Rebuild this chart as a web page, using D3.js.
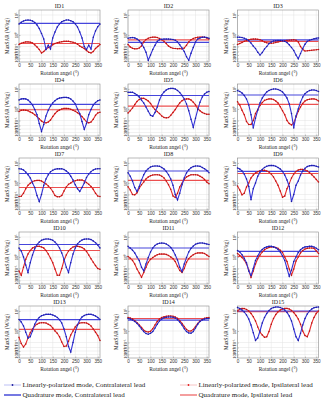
<!DOCTYPE html>
<html lang="en">
<head>
<meta charset="UTF-8">
<title>MaxSAR vs rotation angle</title>
<script src="https://cdn.jsdelivr.net/npm/d3@7"></script>
<style>
  html, body { margin: 0; padding: 0; background: #fff; }
  svg { display: block; font-family: 'Liberation Serif', 'DejaVu Serif', serif; }
</style>
</head>
<body>
<svg id="chart" width="326" height="400"></svg>
<script>
// rotation angles (deg) where the linearly-polarized mode was evaluated
const angles = [0,10,20,30,40,50,60,70,80,90,100,110,120,130,140,150,160,170,180,190,200,210,220,230,240,250,260,270,280,290,300,310,320,330,340,350,360];
const panelIds = ['ID1','ID2','ID3','ID4','ID5','ID6','ID7','ID8','ID9','ID10','ID11','ID12','ID13','ID14','ID15'];
const xTicks = [0,50,100,150,200,250,300,350];
const yTickExp = [1,0,-1,-2,-3,-4];

// MaxSAR (W/kg), linearly-polarized mode, contralateral lead
const linContra = [
  [3.5,4.4,5.0,5.5,5.6,5.5,5.0,4.2,3.2,2.1,1.2,0.45,0.025,0.13,0.032,0.56,1.4,2.5,3.6,4.6,5.2,5.6,5.6,5.2,4.6,3.6,2.5,1.4,0.56,0.1,0.025,0.13,0.032,0.63,1.6,2.6,3.5],
  [0.53,0.58,0.6,0.56,0.45,0.32,0.18,0.063,0.0063,0.00003,0.001,0.025,0.13,0.28,0.38,0.43,0.44,0.44,0.44,0.43,0.4,0.35,0.25,0.14,0.05,0.01,0.0003,0.00003,0.0032,0.063,0.25,0.45,0.56,0.63,0.65,0.6,0.53],
  [0.65,0.63,0.6,0.52,0.42,0.32,0.2,0.11,0.04,0.0063,0.001,0.005,0.032,0.1,0.18,0.25,0.3,0.32,0.33,0.33,0.32,0.28,0.22,0.14,0.063,0.016,0.001,0.00008,0.0025,0.04,0.16,0.28,0.35,0.4,0.47,0.52,0.56],
  [2.8,3.2,3.3,3.2,2.8,2.2,1.6,0.89,0.32,0.025,0.0002,0.016,0.25,0.79,1.4,2.0,2.6,3.2,3.5,3.7,3.8,3.8,3.6,3.2,2.5,1.8,1.0,0.4,0.063,0.0008,0.025,0.32,0.89,1.6,2.1,2.6,2.8],
  [6.8,6.9,6.8,6.0,5.0,4.0,2.8,2.0,1.26,0.63,0.28,0.23,0.5,1.26,2.8,5.0,7.1,8.9,10.2,10.7,10.7,10,8.5,6.6,4.8,3.2,1.8,0.71,0.13,0.0032,0.16,0.89,2.2,4.0,5.6,6.9,7.6],
  [8.3,7.6,6.3,4.8,3.2,1.6,0.32,0.002,0.16,0.79,2.0,3.5,5.2,7.1,8.5,9.5,10,10,9.5,8.5,7.1,5.2,3.5,1.8,0.4,0.002,0.25,1.0,2.2,4.0,5.8,7.2,8.3,8.9,8.9,8.5,7.6],
  [5.2,5.0,4.5,3.5,2.6,1.8,1.0,0.4,0.063,0.0025,0.1,0.63,1.6,2.6,3.6,4.4,4.9,5.1,5.2,5.1,4.7,4.0,3.2,2.2,1.4,0.71,0.32,0.18,0.4,1.0,1.9,2.8,3.7,4.5,5.0,5.2,5.2],
  [3.3,2.2,1.26,0.4,0.18,0.5,1.4,2.6,4.0,5.2,6.3,6.9,7.1,7.1,6.8,6.0,5.0,3.8,2.6,1.6,0.63,0.1,0.008,0.13,0.71,1.8,3.2,4.6,5.8,6.6,7.1,7.1,6.8,6.0,5.2,4.2,3.3],
  [5.6,5.0,4.0,2.8,1.6,0.5,0.008,0.32,1.0,2.2,3.5,4.8,6.0,6.9,7.4,7.6,7.4,6.9,6.0,5.0,3.8,2.5,1.4,0.5,0.0025,0.1,0.63,1.26,2.5,4.0,5.4,6.6,7.2,7.6,7.4,6.9,6.3],
  [2.8,2.0,1.0,0.2,0.016,0.32,1.26,2.6,4.2,5.6,6.8,7.6,7.9,7.9,7.6,6.8,5.6,4.2,2.8,1.6,0.63,0.13,0.016,0.32,1.4,2.8,4.5,5.9,7.1,7.8,7.9,7.9,7.4,6.3,5.2,4.0,2.8],
  [3.4,2.8,2.2,1.6,1.0,0.5,0.13,0.034,0.25,0.89,1.8,2.8,3.8,4.5,4.9,5.0,4.9,4.5,3.8,3.0,2.1,1.26,0.56,0.13,0.025,0.25,0.89,1.8,2.7,3.5,4.3,4.8,5.0,5.0,4.8,4.5,4.2],
  [2.1,1.8,1.3,0.79,0.32,0.032,0.0025,0.1,0.5,1.12,1.8,2.4,2.9,3.2,3.4,3.4,3.2,2.9,2.4,1.8,1.12,0.5,0.1,0.0016,0.05,0.4,1.0,1.66,2.3,2.8,3.2,3.3,3.4,3.4,3.2,2.75,2.3],
  [3.8,2.8,1.8,0.79,0.25,0.32,1.0,2.2,3.5,4.8,5.8,6.3,6.8,6.8,6.8,6.3,5.6,4.8,3.7,2.5,1.26,0.32,0.016,0.0005,0.1,0.79,2.0,3.5,5.0,6.0,6.6,6.8,6.8,6.3,5.6,4.7,3.8],
  [4.2,4.0,3.5,3.0,2.4,1.8,1.26,0.89,0.6,0.52,0.63,0.89,1.4,2.2,3.2,4.0,4.6,4.9,5.0,5.0,4.9,4.5,3.7,2.8,2.0,1.3,0.89,0.66,0.65,0.89,1.4,2.2,3.0,3.6,4.0,4.2,4.2],
  [14.8,13.2,11.2,8.9,6.3,4.0,2.0,0.71,0.15,0.25,1.0,2.5,4.8,7.6,10.5,13.2,14.8,15.8,15.8,15.1,13.5,11.2,8.5,5.6,3.2,1.26,0.32,0.15,0.63,2.0,4.2,7.1,10,12.6,14.5,15.5,15.8]
];

// MaxSAR (W/kg), linearly-polarized mode, ipsilateral lead
const linIpsi = [
  [0.15,0.19,0.22,0.25,0.25,0.24,0.2,0.14,0.08,0.025,0.004,0.01,0.032,0.063,0.1,0.14,0.18,0.21,0.24,0.26,0.28,0.29,0.28,0.26,0.23,0.2,0.16,0.11,0.07,0.04,0.016,0.0063,0.004,0.01,0.04,0.1,0.15],
  [0.15,0.08,0.045,0.034,0.035,0.05,0.11,0.25,0.4,0.52,0.6,0.65,0.65,0.6,0.5,0.38,0.28,0.18,0.11,0.063,0.045,0.04,0.035,0.04,0.032,0.05,0.13,0.25,0.38,0.5,0.58,0.63,0.65,0.65,0.63,0.55,0.44],
  [0.15,0.18,0.22,0.28,0.33,0.38,0.42,0.44,0.44,0.42,0.38,0.32,0.25,0.21,0.19,0.19,0.2,0.22,0.25,0.28,0.3,0.32,0.34,0.35,0.37,0.38,0.35,0.25,0.1,0.025,0.013,0.014,0.016,0.018,0.02,0.022,0.025],
  [0.6,0.76,0.83,0.79,0.71,0.56,0.45,0.32,0.22,0.14,0.08,0.04,0.034,0.05,0.11,0.22,0.4,0.63,0.83,1.0,1.07,1.07,1.05,0.95,0.79,0.63,0.48,0.33,0.22,0.13,0.056,0.034,0.05,0.13,0.28,0.45,0.52],
  [0.44,0.71,1.12,1.66,2.4,3.0,3.4,3.4,3.0,2.5,1.9,1.3,0.89,0.6,0.4,0.25,0.18,0.17,0.18,0.28,0.5,0.89,1.4,2.0,2.6,3.0,3.2,3.2,2.8,2.2,1.6,1.05,0.71,0.5,0.4,0.35,0.35],
  [2.3,1.6,0.79,0.32,0.063,0.016,0.016,0.1,0.4,0.89,1.5,2.1,2.7,3.0,3.2,3.2,3.0,2.5,2.0,1.3,0.71,0.32,0.1,0.025,0.013,0.032,0.2,0.63,1.26,1.9,2.5,2.9,3.1,3.2,3.2,3.0,2.5],
  [0.04,0.045,0.13,0.32,0.63,0.95,1.2,1.3,1.35,1.35,1.26,1.07,0.83,0.56,0.35,0.18,0.063,0.035,0.035,0.063,0.2,0.45,0.76,1.0,1.2,1.3,1.4,1.4,1.4,1.26,1.05,0.76,0.5,0.28,0.13,0.05,0.04],
  [0.47,0.25,0.1,0.085,0.14,0.35,0.71,1.12,1.6,2.0,2.3,2.5,2.6,2.6,2.5,2.2,1.8,1.26,0.71,0.28,0.05,0.025,0.13,0.45,0.95,1.5,2.0,2.3,2.6,2.6,2.6,2.5,2.2,1.9,1.5,1.12,0.87],
  [0.56,0.25,0.085,0.13,0.45,1.0,1.8,2.5,3.2,3.7,4.1,4.3,4.3,4.0,3.5,2.8,2.0,1.26,0.63,0.2,0.028,0.05,0.32,0.89,1.8,2.8,3.8,4.5,4.8,4.8,4.5,4.0,3.3,2.6,2.0,1.5,1.12],
  [0.032,0.0032,0.13,0.63,1.4,2.1,2.8,3.2,3.4,3.4,3.2,2.8,2.1,1.4,0.79,0.32,0.08,0.0032,0.0032,0.1,0.5,1.26,2.0,2.6,3.2,3.4,3.4,3.3,3.0,2.5,1.9,1.26,0.71,0.35,0.18,0.1,0.074],
  [1.07,0.79,0.5,0.25,0.08,0.013,0.0008,0.016,0.13,0.35,0.63,0.89,1.12,1.3,1.4,1.4,1.4,1.35,1.2,1.0,0.71,0.4,0.16,0.04,0.016,0.1,0.35,0.71,1.07,1.3,1.5,1.6,1.6,1.6,1.5,1.26,1.07],
  [1.5,1.2,0.89,0.56,0.25,0.05,0.0008,0.032,0.25,0.71,1.26,1.8,2.3,2.7,3.0,3.2,3.2,3.0,2.7,2.2,1.66,1.0,0.4,0.08,0.0032,0.08,0.45,1.0,1.6,2.1,2.5,2.7,2.8,2.8,2.7,2.0,1.5],
  [0.28,0.063,0.013,0.05,0.25,0.71,1.26,1.8,2.2,2.5,2.6,2.6,2.5,2.2,1.9,1.4,1.0,0.63,0.32,0.11,0.016,0.02,0.13,0.45,1.0,1.6,2.1,2.5,2.6,2.6,2.5,2.2,1.8,1.26,0.79,0.4,0.15],
  [4.7,4.5,4.0,3.3,2.6,2.0,1.5,1.1,0.89,0.83,0.95,1.3,2.0,3.0,4.0,4.8,5.2,5.5,5.6,5.6,5.5,5.0,4.3,3.3,2.4,1.66,1.2,1.0,1.0,1.2,1.66,2.4,3.2,3.8,4.3,4.6,4.7],
  [10,12.6,13.5,13.2,12,10,7.6,5.2,3.2,1.6,0.79,0.45,0.28,0.32,0.89,2.2,4.2,6.6,9.1,11.2,12.6,13.5,13.5,12.6,10.7,8.3,6.0,4.0,2.2,1.0,0.4,0.32,1.0,2.5,4.8,7.6,10]
];

// MaxSAR (W/kg), quadrature mode (independent of rotation)
const quadContra = [3.8,0.23,0.38,1.7,4.7,5.0,3.0,4.0,3.8,4.2,2.8,1.9,3.7,3.5,10];
const quadIpsi   = [0.18,0.38,0.28,0.87,1.4,1.7,0.41,1.35,3.0,2.1,0.68,1.07,1.2,4.2,9.3];

const blue = '#3434d8', blueDot = '#1d1d9e', red = '#e52a2a', redDot = '#b01515';
const quadBlue = '#4646dc', quadRed = '#ec5050';

const svg = d3.select('#chart');
const colLeft = [19, 128, 237.5];
const plotW = 81, plotH = 52;
const rowTop = r => 10 + 74 * r;

const x = d3.scaleLinear().domain([0, 360]).range([0, plotW]);
// compressed log axis: decades below 10^-1 are squeezed, as in the figure
const yLog = d3.scaleLinear()
  .domain([1.25, 1, 0, -1, -2, -3, -4, -5])
  .range([0, 5, 25, 36.5, 41.5, 45, 48.5, 52])
  .clamp(true);
const y = v => yLog(Math.log10(v));

const supMap = {'-': '\u207B', '0': '\u2070', '1': '\u00B9', '2': '\u00B2', '3': '\u00B3', '4': '\u2074'};
const pow10 = e => '10' + String(e).split('').map(c => supMap[c]).join('');

const line = d3.line().x((d, i) => x(angles[i])).y(d => y(d));

panelIds.forEach((id, i) => {
  const g = svg.append('g')
    .attr('transform', `translate(${colLeft[i % 3]},${rowTop(Math.floor(i / 3))})`);

  // grid
  g.selectAll('.vgrid').data(xTicks).join('line')
    .attr('x1', d => x(d)).attr('x2', d => x(d))
    .attr('y1', 0).attr('y2', plotH)
    .attr('stroke', '#e3e3e3').attr('stroke-width', 0.5);
  g.selectAll('.hgrid').data(yTickExp).join('line')
    .attr('x1', 0).attr('x2', plotW)
    .attr('y1', d => yLog(d)).attr('y2', d => yLog(d))
    .attr('stroke', '#e3e3e3').attr('stroke-width', 0.5);

  // axes
  const xAxis = g.append('g')
    .attr('transform', `translate(0,${plotH})`)
    .call(d3.axisBottom(x).tickValues(xTicks).tickSizeInner(-1.5).tickSizeOuter(0).tickPadding(1.5));
  xAxis.selectAll('text').attr('font-size', 4.6).attr('fill', '#333');

  const yAxis = g.append('g')
    .call(d3.axisLeft(yLog).tickValues(yTickExp).tickFormat(pow10).tickSizeInner(-1.5).tickSizeOuter(0).tickPadding(1.5));
  yAxis.selectAll('text')
    .attr('font-size', 4.2).attr('fill', '#333')
    .attr('transform', function () {
      return `rotate(-90,${d3.select(this).attr('x')},0)`;
    })
    .attr('text-anchor', 'middle').attr('dy', '0.1em');
  g.selectAll('.domain').remove();
  g.selectAll('.tick line').attr('stroke', '#777').attr('stroke-width', 0.4);

  g.append('rect')
    .attr('width', plotW).attr('height', plotH)
    .attr('fill', 'none').attr('stroke', '#8a8a8a').attr('stroke-width', 0.6);

  // quadrature mode levels
  g.append('line')
    .attr('x1', 0).attr('x2', plotW)
    .attr('y1', y(quadIpsi[i])).attr('y2', y(quadIpsi[i]))
    .attr('stroke', quadRed).attr('stroke-width', 1.1);
  g.append('line')
    .attr('x1', 0).attr('x2', plotW)
    .attr('y1', y(quadContra[i])).attr('y2', y(quadContra[i]))
    .attr('stroke', quadBlue).attr('stroke-width', 1.1);

  // linearly-polarized mode curves
  [[linIpsi[i], red, redDot], [linContra[i], blue, blueDot]].forEach(([vals, c, dc]) => {
    g.append('path').datum(vals)
      .attr('d', line)
      .attr('fill', 'none').attr('stroke', c).attr('stroke-width', 1.1);
    g.selectAll(null).data(vals).join('circle')
      .attr('cx', (d, k) => x(angles[k])).attr('cy', d => y(d))
      .attr('r', 0.75).attr('fill', dc);
  });

  // labels
  g.append('text')
    .attr('x', plotW / 2).attr('y', -2)
    .attr('text-anchor', 'middle').attr('font-size', 6).attr('fill', '#222')
    .text(id);
  g.append('text')
    .attr('x', plotW / 2).attr('y', plotH + 12.5)
    .attr('text-anchor', 'middle').attr('font-size', 5.4).attr('fill', '#222')
    .text('Rotation angel (\u00B0)');
  g.append('text')
    .attr('transform', `translate(-10,${plotH / 2}) rotate(-90)`)
    .attr('text-anchor', 'middle').attr('font-size', 5.2).attr('fill', '#222')
    .text('MaxSAR (W/kg)');
});

// legend
const legendItems = [
  {label: 'Linearly-polarized mode, Contralateral lead', color: '#a9aef2', dot: blueDot, w: 0.8, x: 4, y: 385},
  {label: 'Quadrature mode, Contralateral lead', color: '#3a40d6', dot: null, w: 1.4, x: 4, y: 395},
  {label: 'Linearly-polarized mode, Ipsilateral lead', color: '#f5b5b5', dot: '#e01e1e', w: 0.8, x: 180, y: 385},
  {label: 'Quadrature mode, Ipsilateral lead', color: '#f07474', dot: null, w: 1.4, x: 180, y: 395}
];
const lg = svg.append('g');
legendItems.forEach(it => {
  lg.append('line')
    .attr('x1', it.x).attr('x2', it.x + 17)
    .attr('y1', it.y).attr('y2', it.y)
    .attr('stroke', it.color).attr('stroke-width', it.w);
  if (it.dot) {
    lg.append('circle').attr('cx', it.x + 8.5).attr('cy', it.y).attr('r', 0.9).attr('fill', it.dot);
  }
  lg.append('text')
    .attr('x', it.x + 18.5).attr('y', it.y + 2.4)
    .attr('font-size', 7).attr('fill', '#222')
    .text(it.label);
});
</script>
</body>
</html>
